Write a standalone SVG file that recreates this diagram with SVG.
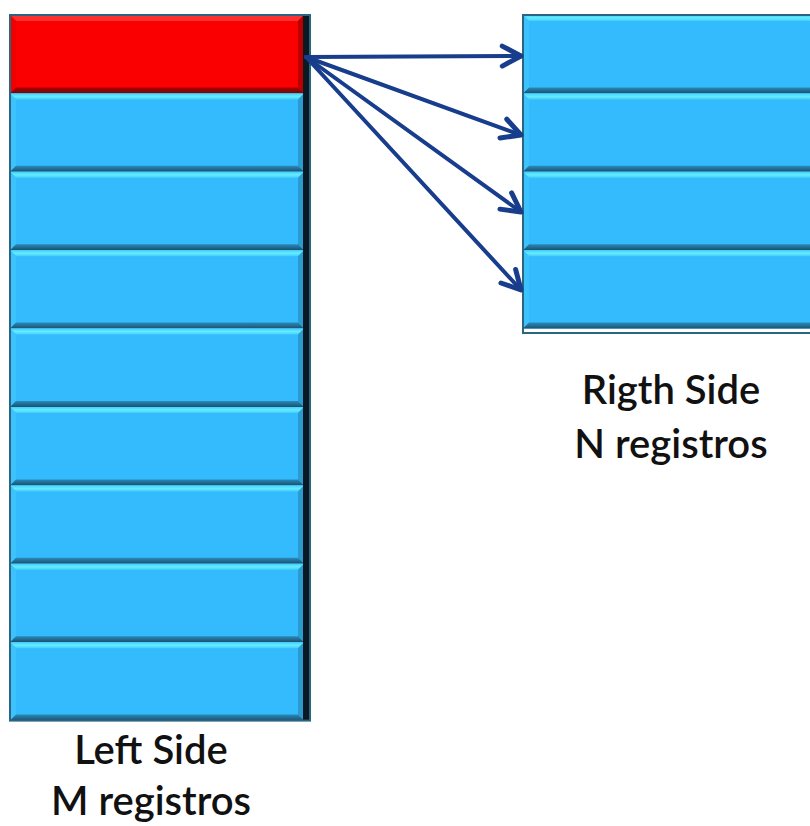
<svg xmlns="http://www.w3.org/2000/svg" width="810" height="826" viewBox="0 0 810 826">
<style>
.base{fill:#33bbfd}
.top{fill:url(#gTop)}
.lft{fill:#3cc3fd}
.rgt{fill:#2a9ad0}
.bot{fill:url(#gBot)}
.rbase{fill:#fa0000}
.rtop{fill:#ff3030}
.rlft{fill:#f00000}
.rrgt{fill:#b80000}
.rbot{fill:url(#gRBot)}
.outline{fill:none;stroke:#2a6582;stroke-width:2}
.edge{fill:#0b1a22}
.arrow{fill:none;stroke:#173d8c;stroke-width:4;stroke-linecap:round}
.label{font-family:Lato,"Open Sans",sans-serif;font-size:40px;font-weight:600;fill:#111;text-anchor:middle}
</style>
<defs>
<linearGradient id="gTop" x1="0" y1="0" x2="0" y2="1">
<stop offset="0" stop-color="#3fcfff"/>
<stop offset="0.5" stop-color="#66ecff"/>
<stop offset="1" stop-color="#44cdfd"/>
</linearGradient>
<linearGradient id="gBot" x1="0" y1="0" x2="0" y2="1">
<stop offset="0" stop-color="#2a8ab8"/>
<stop offset="1" stop-color="#1a5070"/>
</linearGradient>
<linearGradient id="gRBot" x1="0" y1="0" x2="0" y2="1">
<stop offset="0" stop-color="#b00000"/>
<stop offset="1" stop-color="#6a0a0a"/>
</linearGradient>
<g id="blk">
<rect class="base" x="0" y="0" width="294" height="78.4"/>
<polygon class="top" points="0,0 294,0 288,6 6,6"/>
<polygon class="lft" points="0,0 6,6 6,72.4 0,78.4"/>
<polygon class="rgt" points="294,0 288,6 288,72.4 294,78.4"/>
<polygon class="bot" points="0,78.4 6,72.4 288,72.4 294,78.4"/>
</g>
<g id="rblk">
<rect class="rbase" x="0" y="0" width="294" height="78.4"/>
<polygon class="rtop" points="0,0 294,0 288,6 6,6"/>
<polygon class="rlft" points="0,0 6,6 6,72.4 0,78.4"/>
<polygon class="rrgt" points="294,0 288,6 288,72.4 294,78.4"/>
<polygon class="rbot" points="0,78.4 6,72.4 288,72.4 294,78.4"/>
</g>
<marker id="chev" markerUnits="userSpaceOnUse" markerWidth="30" markerHeight="30" viewBox="-20 -12 24 24" refX="0" refY="0" orient="auto" overflow="visible">
<path d="M-15,-8 L0,0 L-15,8" fill="none" stroke="#173d8c" stroke-width="4" stroke-linecap="round" stroke-linejoin="round"/>
</marker>
</defs>

<g id="left-side">
<g id="L1"><use href="#rblk" x="10" y="15"/></g>
<g id="L2"><use href="#blk" x="10" y="93.4"/></g>
<g id="L3"><use href="#blk" x="10" y="171.8"/></g>
<g id="L4"><use href="#blk" x="10" y="250.2"/></g>
<g id="L5"><use href="#blk" x="10" y="328.6"/></g>
<g id="L6"><use href="#blk" x="10" y="407"/></g>
<g id="L7"><use href="#blk" x="10" y="485.4"/></g>
<g id="L8"><use href="#blk" x="10" y="563.8"/></g>
<g id="L9"><use href="#blk" x="10" y="642.2"/></g>
<rect class="edge" x="303" y="15" width="7" height="705.6"/>
<rect class="outline" x="10" y="15" width="300" height="705.6"/>
<text class="label" x="151" y="764">Left Side</text>
<text class="label" x="151" y="815">M registros</text>
</g>

<g id="right-side">
<g id="R1"><use href="#blk" x="523" y="15"/></g>
<g id="R2"><use href="#blk" x="523" y="93.4"/></g>
<g id="R3"><use href="#blk" x="523" y="171.8"/></g>
<g id="R4"><use href="#blk" x="523" y="250.2"/></g>
<rect class="outline" x="523" y="15" width="300" height="318"/>
<text class="label" x="671" y="404">Rigth Side</text>
<text class="label" x="671" y="458">N registros</text>
</g>

<g id="connectors">
<line class="arrow" x1="306" y1="57" x2="521" y2="56" marker-end="url(#chev)"/>
<line class="arrow" x1="306" y1="57" x2="521" y2="135" marker-end="url(#chev)"/>
<line class="arrow" x1="306" y1="57" x2="521" y2="212" marker-end="url(#chev)"/>
<line class="arrow" x1="306" y1="57" x2="521" y2="290" marker-end="url(#chev)"/>
</g>
</svg>
